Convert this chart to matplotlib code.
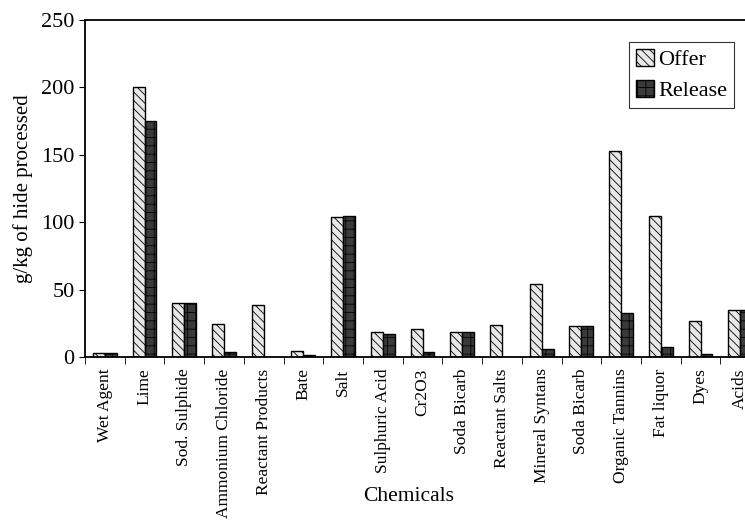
import numpy as np
import matplotlib.pyplot as plt
from matplotlib.ticker import FixedLocator

plt.rcParams['font.family'] = ['Liberation Serif', 'DejaVu Serif']
plt.rcParams['hatch.linewidth'] = 0.6

chemicals = ['Wet Agent', 'Lime', 'Sod. Sulphide', 'Ammonium Chloride', 'Reactant Products',
             'Bate', 'Salt', 'Sulphuric Acid', 'Cr2O3', 'Soda Bicarb', 'Reactant Salts',
             'Mineral Syntans', 'Soda Bicarb', 'Organic Tannins', 'Fat liquor', 'Dyes', 'Acids']
offer = [3, 200, 40, 25, 39, 5, 104, 19, 21, 19, 24, 54, 23, 153, 105, 27, 35]
release = [3, 175, 40, 4, 0, 1.5, 105, 17.5, 4, 19, 0, 6.5, 23, 33, 8, 2.5, 35]

x = np.arange(len(chemicals))
w = 0.3

fig = plt.figure(figsize=(7.45, 5.27), dpi=100)
ax = fig.add_axes([0.114, 0.322, 0.886, 0.640])

ax.bar(x - w / 2, offer, w, facecolor='#e8e8e8', edgecolor='black', hatch='\\\\\\\\',
       linewidth=1.0, label='Offer')
ax.bar(x + w / 2, release, w, facecolor='#3a3a3a', edgecolor='black', hatch='++',
       linewidth=1.0, label='Release')

ax.set_xlim(-0.5, 16.12)
ax.set_ylim(0, 250)
ax.set_yticks([0, 50, 100, 150, 200, 250])
ax.tick_params(axis='y', labelsize=16, direction='out', length=4)

ax.set_xticks(x)
ax.set_xticklabels(chemicals, rotation=90, fontsize=12.5)
ax.tick_params(axis='x', which='major', length=0, pad=8)
ax.xaxis.set_minor_locator(FixedLocator(np.arange(-0.5, 17, 1)))
ax.tick_params(axis='x', which='minor', length=5, direction='out')

ax.spines['right'].set_visible(False)
for s in ['left', 'bottom', 'top']:
    ax.spines[s].set_linewidth(1.3)

ax.set_ylabel('g/kg of hide processed', fontsize=15, labelpad=6)
ax.set_xlabel('Chemicals', fontsize=15.5)
ax.xaxis.set_label_coords(0.49, -0.385)

leg = ax.legend(loc='upper right', bbox_to_anchor=(0.983, 0.935), fontsize=16,
                frameon=True, fancybox=False, edgecolor='black', handlelength=0.8,
                handleheight=0.8, handletextpad=0.2, borderpad=0.3, labelspacing=0.45,
                borderaxespad=0)
leg.get_frame().set_linewidth(0.8)

fig.savefig('out.png', dpi=100)
